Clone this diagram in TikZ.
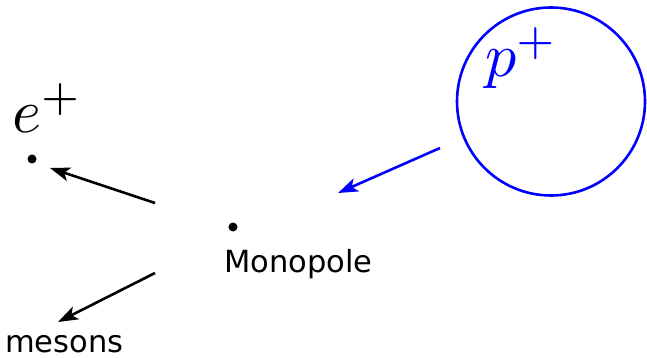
\documentclass[tikz,border=0pt]{standalone}
\usepackage[no-math]{fontspec}
\newfontfamily\labelfont{DejaVu Sans}
\usetikzlibrary{arrows.meta}

\begin{document}
\begin{tikzpicture}[x=1pt,y=-1pt,
    arr/.style={line width=2.6pt,-{Stealth[length=20pt,width=14pt,inset=5pt]}},
    dot/.style={circle,fill,inner sep=0pt,minimum size=9pt},
    lab/.style={inner sep=0pt,anchor=base west},
    big/.style={lab,scale=6.2},
    txt/.style={lab,font=\labelfont\fontsize{30.5}{36}\selectfont}]
    \useasboundingbox(0,0)rectangle(647,358);
    % points
    \coordinate(E0)at(155,203);
    \coordinate(E1)at(50,168);
    \coordinate(M0)at(155,273);
    \coordinate(M1)at(58,322);
    \coordinate(P0)at(440,148);
    \coordinate(P1)at(338,193);
    \node[dot](edot)at(32,159){};
    \node[dot](mdot)at(233,227){};
    % proton
    \node[circle,draw=blue,line width=2.6pt,inner sep=0pt,minimum size=188pt](prot)at(551,101.5){};
    \node[big,blue](plab)at(484,77){$p^+$};
    % labels
    \node[big](elab)at(11,133){$e^+$};
    \node[txt](mono)at(224,272){Monopole};
    \node[txt](mes)at(5,352){mesons};
    % arrows
    \draw[arr](E0)--(E1);
    \draw[arr](M0)--(M1);
    \draw[arr,blue](P0)--(P1);
\end{tikzpicture}
\end{document}
